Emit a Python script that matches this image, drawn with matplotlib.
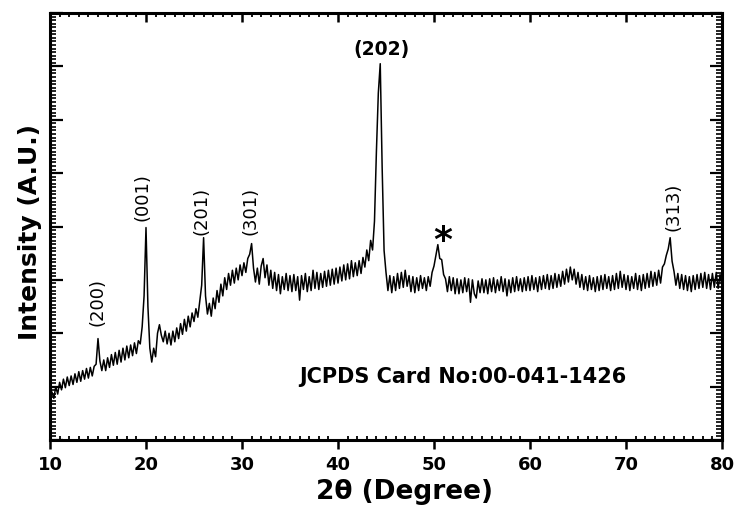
import numpy as np
import matplotlib
matplotlib.use('Agg')
import matplotlib.pyplot as plt
from matplotlib.ticker import MultipleLocator, AutoMinorLocator, NullFormatter

# scan angle (2 theta), 0.2 degree steps
two_theta = np.round(np.arange(10, 80.001, 0.2), 1)

# intensity, one row per 5 degrees
intensity = (
    [0.70, 0.90, 0.78, 1.00, 0.86, 1.08, 0.94, 1.14, 0.98, 1.18, 1.02, 1.20, 1.04,
     1.24, 1.08, 1.28, 1.10, 1.30, 1.14, 1.34, 1.16, 1.36, 1.20, 1.38, 1.42] +
    [1.90, 1.48, 1.30, 1.50, 1.30, 1.54, 1.36, 1.60, 1.40, 1.64, 1.42, 1.68, 1.46,
     1.72, 1.50, 1.76, 1.54, 1.78, 1.58, 1.82, 1.62, 1.86, 1.80, 2.12, 2.70] +
    [3.98, 2.50, 1.72, 1.46, 1.72, 1.56, 2.00, 2.16, 1.96, 1.84, 2.04, 1.80, 2.00,
     1.78, 2.04, 1.84, 2.10, 1.90, 2.18, 1.98, 2.26, 2.04, 2.32, 2.12, 2.38] +
    [2.22, 2.46, 2.30, 2.60, 2.90, 3.79, 2.70, 2.36, 2.56, 2.32, 2.66, 2.46, 2.80,
     2.58, 2.92, 2.70, 3.04, 2.82, 3.12, 2.90, 3.18, 2.94, 3.22, 3.00, 3.28] +
    [3.08, 3.32, 3.14, 3.40, 3.48, 3.68, 3.22, 2.96, 3.22, 2.92, 3.26, 3.40, 3.04,
     3.28, 2.90, 3.18, 2.84, 3.14, 2.80, 3.10, 2.74, 3.06, 2.82, 3.12, 2.80] +
    [3.08, 2.78, 3.10, 2.80, 3.06, 2.62, 3.08, 2.82, 3.12, 2.78, 3.06, 2.80, 3.18,
     2.84, 3.14, 2.82, 3.12, 2.86, 3.16, 2.88, 3.18, 2.90, 3.20, 2.92, 3.22] +
    [2.94, 3.24, 2.98, 3.28, 3.00, 3.30, 3.02, 3.36, 3.06, 3.32, 3.08, 3.36, 3.12,
     3.42, 3.24, 3.56, 3.36, 3.74, 3.56, 4.10, 5.40, 6.50, 7.05, 5.10, 3.55] +
    [3.14, 2.80, 3.08, 2.76, 3.06, 2.80, 3.12, 2.84, 3.14, 2.86, 3.18, 2.88, 3.08,
     2.78, 3.06, 2.76, 3.04, 2.80, 3.08, 2.84, 3.04, 2.80, 3.06, 2.88, 3.14] +
    [3.26, 3.46, 3.66, 3.40, 3.38, 3.10, 3.02, 2.78, 3.06, 2.80, 3.04, 2.74, 3.02,
     2.74, 3.00, 2.76, 3.04, 2.78, 3.02, 2.58, 3.00, 2.74, 2.66, 2.98, 2.76] +
    [3.02, 2.76, 3.00, 2.74, 3.02, 2.78, 3.04, 2.76, 3.00, 2.80, 3.06, 2.78, 3.02,
     2.70, 3.00, 2.76, 3.04, 2.78, 3.06, 2.80, 3.02, 2.78, 3.04, 2.80, 3.06] +
    [2.80, 3.08, 2.82, 3.04, 2.78, 3.06, 2.82, 3.08, 2.84, 3.10, 2.82, 3.08, 2.84,
     3.12, 2.86, 3.10, 2.88, 3.16, 2.92, 3.20, 2.96, 3.24, 3.00, 3.20, 2.92] +
    [3.14, 2.86, 3.10, 2.82, 3.06, 2.80, 3.08, 2.82, 3.04, 2.78, 3.06, 2.80, 3.08,
     2.82, 3.10, 2.84, 3.06, 2.80, 3.08, 2.82, 3.12, 2.84, 3.16, 2.86, 3.10] +
    [2.82, 3.08, 2.80, 3.06, 2.84, 3.12, 2.82, 3.08, 2.80, 3.10, 2.84, 3.12, 2.86,
     3.16, 2.88, 3.14, 2.90, 3.18, 2.94, 3.24, 3.30, 3.46, 3.58, 3.79, 3.35] +
    [3.16, 2.90, 3.12, 2.84, 3.10, 2.82, 3.08, 2.80, 3.06, 2.78, 3.08, 2.82, 3.10,
     2.84, 3.12, 2.86, 3.14, 2.84, 3.10, 2.82, 3.12, 2.86, 3.14, 2.84, 3.10, 2.88]
)

# rotated peak labels
peak_labels = ['(200)', '(001)', '(201)', '(301)', '(313)']
peak_x = [15.0, 19.6, 25.8, 30.9, 74.9]
peak_y = [2.6, 4.57, 4.31, 4.31, 4.38]

fig = plt.figure(figsize=(7.4, 5.1), dpi=100)
ax = fig.add_axes([50 / 740, 69 / 510, 672 / 740, 427 / 510])

ax.plot(two_theta, intensity, color='black', lw=1.1)

ax.set_xlim(10, 80)
ax.set_ylim(0, 8)

ax.xaxis.set_major_locator(MultipleLocator(10))
ax.xaxis.set_minor_locator(MultipleLocator(1))
ax.yaxis.set_major_locator(MultipleLocator(1))
ax.yaxis.set_minor_locator(AutoMinorLocator(15))
ax.yaxis.set_major_formatter(NullFormatter())

for s in ax.spines.values():
    s.set_linewidth(2.2)

ax.tick_params(axis='x', which='major', direction='out', length=6.5, width=1.8,
               pad=4, labelsize=13, top=True)
ax.tick_params(axis='x', which='minor', direction='in', length=3, width=1.3,
               top=True)
ax.tick_params(axis='y', which='major', direction='in', length=9, width=1.6,
               right=True)
ax.tick_params(axis='y', which='minor', direction='in', length=4, width=1.2,
               right=True)
for lab in ax.get_xticklabels():
    lab.set_fontweight('bold')

# top axis major ticks point inward
for t in ax.xaxis.get_major_ticks():
    t.tick2line.set_marker(3)

ax.set_xlabel('2θ (Degree)', fontsize=19, fontweight='bold')
ax.xaxis.set_label_coords(0.528, -0.088)
ax.set_ylabel('Intensity (A.U.)', fontsize=18, fontweight='bold')
ax.yaxis.set_label_coords(-0.012, 0.49)

for lbl, px, py in zip(peak_labels, peak_x, peak_y):
    ax.text(px, py, lbl, rotation=90, ha='center', va='center', fontsize=13)

ax.text(44.5, 7.33, '(202)', ha='center', va='center', fontsize=13.5,
        fontweight='bold')
ax.text(50.9, 3.74, '*', ha='center', va='center', fontsize=26,
        fontweight='bold')
ax.text(53.05, 1.2, 'JCPDS Card No:00-041-1426', ha='center', va='center',
        fontsize=15, fontweight='bold')

fig.savefig('out.png', dpi=100)
